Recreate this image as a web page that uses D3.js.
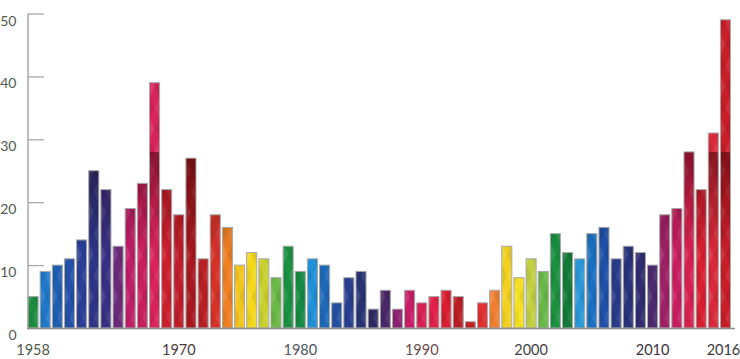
<!DOCTYPE html>
<html><head><meta charset="utf-8">
<script src="https://cdn.jsdelivr.net/npm/d3@7/dist/d3.min.js"></script>
<style>html,body{margin:0;padding:0;background:#fff;}svg{display:block;}</style>
</head><body>
<svg id="chart" width="740" height="359"></svg>
<script>
// Categories (one bar per year shown; the source chart has 58 bars between 1958 and 2016)
const years = [1958,1959,1960,1961,1962,1963,1964,1965,1966,1967,1968,1969,1970,1971,1972,1973,1974,1975,1976,1977,
  1978,1979,1980,1981,1982,1983,1984,1985,1986,1987,1988,1989,1990,1991,1992,1993,1994,1996,1997,1998,
  1999,2000,2001,2002,2003,2004,2005,2006,2007,2008,2009,2010,2011,2012,2013,2014,2015,2016];
const values = [5,9,10,11,14,25,22,13,19,23,39,22,18,27,11,18,16,10,12,11,
  8,13,9,11,10,4,8,9,3,6,3,6,4,5,6,5,1,4,6,13,
  8,11,9,15,12,11,15,16,11,13,12,10,18,19,28,22,31,49];
const yTicks = [0,10,20,30,40,50];
const xTickLabels = [1958,1970,1980,1990,2000,2010,2016];

// styles
const barColors = ["#1b8c3e","#1f78c8","#1f5fb0","#2550a8","#2a3f95","#2d3585","#383083","#6a2a78","#c01e66","#c8205c",
  "#d8245a","#cc202e","#c01c2a","#a8181e","#b82025","#d5322a","#ee7f22","#f2c41e","#f2d81a","#c8d030",
  "#6ab845","#1a9040","#168a42","#2090d8","#1e68b8","#2550a0","#263d90","#273272","#2d2a62","#4a2868",
  "#8e2272","#c81e68","#d82055","#e02048","#d81e30","#b81e25","#c02020","#e03030","#f08030","#f2d020",
  "#f4e020","#c2d040","#68b848","#1a9040","#137a38","#2a98d8","#1a70c0","#2050a8","#283a88","#2a3278",
  "#302c70","#4a2a70","#a02065","#c81e60","#d82050","#d81e30","#d82a3a","#c81e2a"];
const labelColors = ["#4d5a4d","#4a3a3a","#505560","#6b4a50","#3f3f3f","#3a3040","#3a3a3a"];

const svg = d3.select("#chart");
const x = d3.scaleBand().domain(years).range([28, 730.5]).paddingInner(0.17).paddingOuter(0);
const y = d3.scaleLinear().domain([0, 50]).range([328, 13.5]);

const defs = svg.append("defs");
// dark band overlay gradient
const g = defs.append("linearGradient").attr("id","band").attr("gradientUnits","userSpaceOnUse")
  .attr("x1",0).attr("x2",0).attr("y1",y(50)).attr("y2",y(0));
const off = v => (50 - v) / 50;
g.append("stop").attr("offset",0).attr("stop-color","#000").attr("stop-opacity",0);
g.append("stop").attr("offset",off(28.05)).attr("stop-color","#000").attr("stop-opacity",0);
g.append("stop").attr("offset",off(27.95)).attr("stop-color","#200").attr("stop-opacity",0.45);
g.append("stop").attr("offset",off(20)).attr("stop-color","#200").attr("stop-opacity",0.2);
g.append("stop").attr("offset",off(12)).attr("stop-color","#000").attr("stop-opacity",0);
g.append("stop").attr("offset",1).attr("stop-color","#000").attr("stop-opacity",0);

// diamond texture
const pw = x.step(), ph = 42;
const pat = defs.append("pattern").attr("id","tex").attr("patternUnits","userSpaceOnUse")
  .attr("x", x.range()[0]).attr("y", y(0)).attr("width", pw).attr("height", ph);
const bw = x.bandwidth();
pat.append("polygon").attr("points",`0,0 ${bw/2},${ph/4} 0,${ph/2}`).attr("fill","#fff").attr("opacity",0.10);
pat.append("polygon").attr("points",`${bw},${ph/2} ${bw/2},${3*ph/4} ${bw},${ph}`).attr("fill","#fff").attr("opacity",0.08);
pat.append("polygon").attr("points",`${bw/2},${ph/4} ${bw},0 ${bw},${ph/2}`).attr("fill","#000").attr("opacity",0.07);
pat.append("polygon").attr("points",`0,${ph/2} ${bw/2},${3*ph/4} 0,${ph}`).attr("fill","#000").attr("opacity",0.06);

// bars
const bars = svg.append("g");
bars.selectAll("rect.base").data(years).join("rect").attr("class","base")
  .attr("x", d => x(d)).attr("y", (d,i) => y(values[i]))
  .attr("width", x.bandwidth()).attr("height", (d,i) => y(0) - y(values[i]))
  .attr("fill", (d,i) => barColors[i]);
bars.selectAll("rect.tex").data(years).join("rect").attr("class","tex")
  .attr("x", d => x(d)).attr("y", (d,i) => y(values[i]))
  .attr("width", x.bandwidth()).attr("height", (d,i) => y(0) - y(values[i]))
  .attr("fill", "url(#tex)");
bars.selectAll("rect.band").data(years).join("rect").attr("class","band")
  .attr("x", d => x(d)).attr("y", (d,i) => y(values[i]))
  .attr("width", x.bandwidth()).attr("height", (d,i) => y(0) - y(values[i]))
  .attr("fill", "url(#band)")
  .attr("stroke", "#a9a9a9").attr("stroke-width", 1);

// y axis
const yAxis = svg.append("g").attr("transform","translate(28,0)")
  .call(d3.axisRight(y).tickValues(yTicks).tickSize(16).tickFormat(""));
yAxis.select(".domain").attr("stroke","#9a9a9a").attr("stroke-width",1.3).attr("d", `M0,${y(50)}V${y(0)}`);
yAxis.selectAll(".tick line").attr("stroke","#a8a8a8").attr("stroke-width",1.3);
svg.append("g").selectAll("text").data(yTicks).join("text")
  .attr("x", 16.5).attr("y", d => y(d) + 12).attr("text-anchor","end")
  .attr("font-family","Lato, 'Open Sans', sans-serif").attr("font-size",14)
  .attr("fill","#4f5a4f").text(d => d);

// x axis
svg.append("line").attr("x1",27).attr("x2",735).attr("y1",y(0)+0.5).attr("y2",y(0)+0.5)
  .attr("stroke","#8c8c8c").attr("stroke-width",1.5);
svg.append("g").selectAll("text").data(xTickLabels).join("text")
  .attr("x", d => x(d) + x.bandwidth()/2 + (d === 2016 ? -2 : 0)).attr("y", 355)
  .attr("text-anchor","middle")
  .attr("font-family","Lato, 'Open Sans', sans-serif").attr("font-size",14.5)
  .attr("fill", (d,i) => labelColors[i]).text(d => d);
</script>
</body></html>
